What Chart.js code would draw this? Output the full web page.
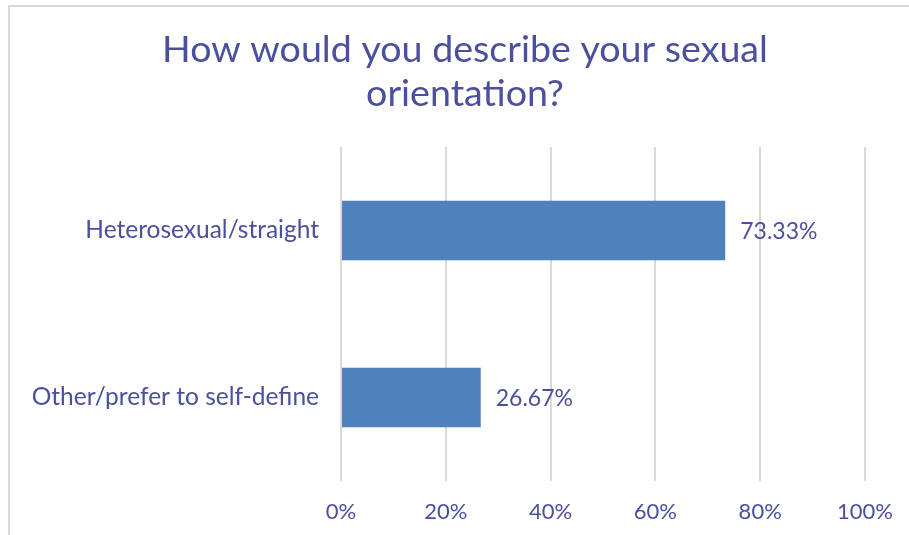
<!DOCTYPE html>
<html>
<head>
<meta charset="utf-8">
<script src="https://cdn.jsdelivr.net/npm/chart.js@4"></script>
<style>
  html, body { margin: 0; padding: 0; background: #fff; overflow: hidden; }
  #wrap { position: relative; width: 909px; height: 535px; }
  #frame {
    position: absolute; left: 8px; top: 5px; width: 1000px; height: 600px;
    border: 2px solid #d9d9d9; box-sizing: border-box;
  }
  canvas { position: absolute; left: 0; top: 0; }
</style>
</head>
<body>
<div id="wrap">
  <div id="frame"></div>
  <canvas id="chartOrientation" width="909" height="535"></canvas>
</div>
<script>
const titleLines = ['How would you describe your sexual', 'orientation?'];
const categories = ['Heterosexual/straight', 'Other/prefer to self-define'];
const shares = [73.33, 26.67];
const tickValues = [0, 20, 40, 60, 80, 100];

const textColor = '#4a4f9e';
const fontFamily = 'Lato, "Open Sans", sans-serif';

// two-line heading, centred a little right of the canvas middle
const headingText = {
  id: 'headingText',
  afterDraw(chart) {
    const ctx = chart.ctx;
    ctx.save();
    ctx.fillStyle = textColor;
    ctx.font = '37.6px ' + fontFamily;
    ctx.textAlign = 'center';
    ctx.textBaseline = 'alphabetic';
    titleLines.forEach((line, i) => {
      ctx.fillText(line, 465, 62 + i * 44);
    });
    ctx.restore();
  }
};

// writes the percentage just past the end of each bar
const barValueLabels = {
  id: 'barValueLabels',
  afterDatasetsDraw(chart) {
    const ctx = chart.ctx;
    const meta = chart.getDatasetMeta(0);
    ctx.save();
    ctx.fillStyle = textColor;
    ctx.font = '23px ' + fontFamily;
    ctx.textAlign = 'left';
    ctx.textBaseline = 'middle';
    meta.data.forEach((bar, i) => {
      ctx.fillText(shares[i].toFixed(2) + '%', bar.x + 15, bar.y + 1);
    });
    ctx.restore();
  }
};

new Chart(document.getElementById('chartOrientation'), {
  type: 'bar',
  data: {
    labels: categories,
    datasets: [{
      data: shares,
      backgroundColor: '#4f81bd',
      borderWidth: 0,
      barPercentage: 0.355,
      categoryPercentage: 1.0
    }]
  },
  options: {
    indexAxis: 'y',
    responsive: false,
    animation: false,
    layout: { padding: { left: 0, right: 44, top: 147, bottom: 0 } },
    plugins: {
      legend: { display: false },
      tooltip: { enabled: false },
      title: { display: false }
    },
    scales: {
      x: {
        min: 0, max: 100,
        afterBuildTicks: (scale) => { scale.ticks = tickValues.map(v => ({ value: v })); },
        afterFit: (scale) => {
          scale.height = 54;
          scale.paddingLeft = 0;
          scale.paddingRight = 0;
        },
        grid: { color: '#d9d9d9', lineWidth: 2, drawTicks: false },
        border: { display: false },
        ticks: {
          color: textColor,
          padding: 18,
          font: { family: fontFamily, size: 22 },
          callback: (v) => v + '%'
        }
      },
      y: {
        afterFit: (scale) => { scale.width = 341; },
        grid: { display: false, drawTicks: false },
        border: { display: false },
        ticks: {
          color: textColor,
          padding: 22,
          font: { family: fontFamily, size: 24.5 }
        }
      }
    }
  },
  plugins: [barValueLabels, headingText]
});
</script>
</body>
</html>
